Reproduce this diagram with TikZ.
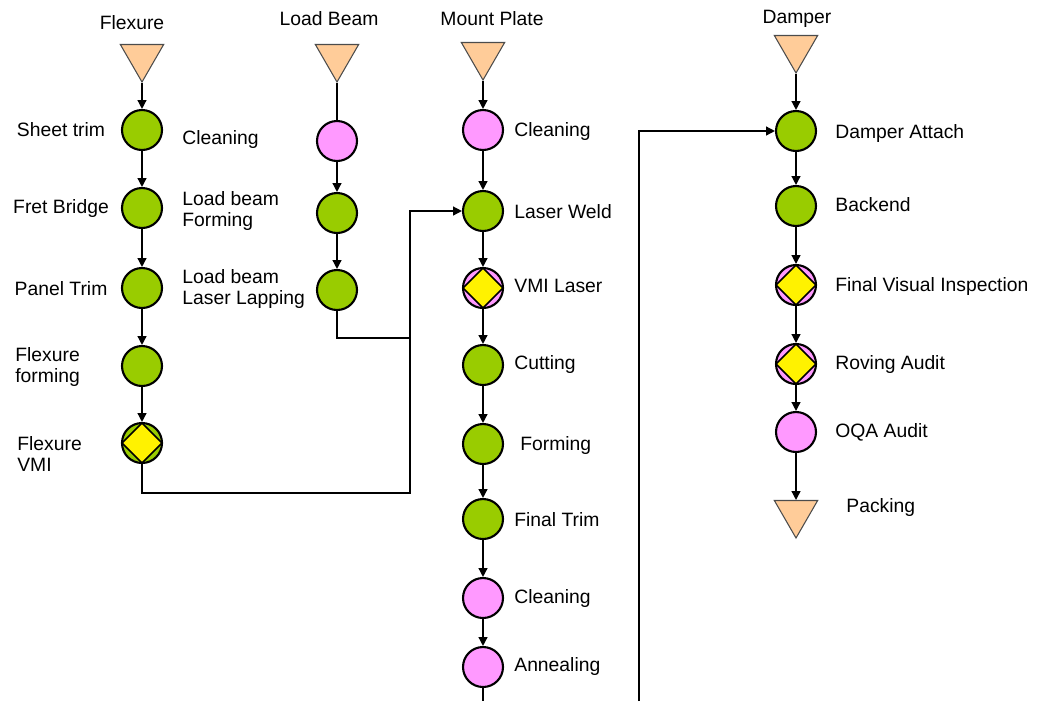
\documentclass[tikz,border=0pt]{standalone}
\usepackage{fontspec}
\setmainfont{Liberation Sans}
\usetikzlibrary{shapes.geometric,arrows.meta}

\definecolor{opgreen}{HTML}{99CC00}
\definecolor{oppink}{HTML}{FF99FF}
\definecolor{stockpeach}{HTML}{FFCC99}

\tikzset{
	op/.style={circle, draw, line width=1.2pt, minimum size=0.8cm, inner sep=0pt},
	work/.style={op, fill=opgreen},
	wash/.style={op, fill=oppink},
	check/.style={op, fill=#1, path picture={
		\draw[line width=0.9pt, fill=yellow] (path picture bounding box.north) -- (path picture bounding box.east) -- (path picture bounding box.south) -- (path picture bounding box.west) -- cycle;
	}},
	stock/.style={regular polygon, regular polygon sides=3, shape border rotate=180, draw=black!70, line width=0.6pt, fill=stockpeach, minimum size=1.0cm, inner sep=0pt},
	flow/.style={line width=0.8pt, -{Triangle[length=5pt,width=5pt]}},
	link/.style={line width=0.8pt},
	lbl/.style={font=\fontsize{11}{12}\selectfont, align=left, inner sep=0pt},
}

\begin{document}
\begin{tikzpicture}[x=0.02cm, y=-0.02cm]
	\useasboundingbox (0,0) rectangle (1040,701);

	% column titles
	\node[lbl] (h-flex)  at (132,23) {Flexure};
	\node[lbl] (h-beam)  at (329,19) {Load Beam};
	\node[lbl] (h-mount) at (492,19) {Mount Plate};
	\node[lbl] (h-damp)  at (797,19) {Damper};

	% flexure
	\node[stock] (flex0) at (142,57) {};
	\node[work]  (flex1) at (142,130) {};
	\node[work]  (flex2) at (142,208) {};
	\node[work]  (flex3) at (142,288) {};
	\node[work]  (flex4) at (142,366) {};
	\node[check=opgreen] (flex5) at (142,443) {};
	\node[lbl] (l-sheet) at (61,130) {Sheet trim};
	\node[lbl] (l-fret)  at (61,208) {Fret Bridge};
	\node[lbl] (l-panel) at (61,289) {Panel Trim};
	\node[lbl, anchor=west] (l-fform) at (15,367) {Flexure\\forming};
	\node[lbl, anchor=west] (l-fvmi)  at (17,454) {Flexure\\VMI};

	% load beam
	\node[stock] (beam0) at (337,57) {};
	\node[wash]  (beam1) at (337,141) {};
	\node[work]  (beam2) at (337,213) {};
	\node[work]  (beam3) at (337,290) {};
	\node[lbl, anchor=west] (l-bclean) at (182,139) {Cleaning};
	\node[lbl, anchor=west] (l-bform)  at (182,211) {Load beam\\Forming};
	\node[lbl, anchor=west] (l-blap)   at (182,289) {Load beam\\Laser Lapping};

	% mount plate
	\node[stock] (mount0) at (483,55) {};
	\node[wash]  (mount1) at (483,130) {};
	\node[work]  (mount2) at (483,211) {};
	\node[check=oppink] (mount3) at (483,288) {};
	\node[work]  (mount4) at (483,365) {};
	\node[work]  (mount5) at (483,444) {};
	\node[work]  (mount6) at (483,519) {};
	\node[wash]  (mount7) at (483,598) {};
	\node[wash]  (mount8) at (483,667) {};
	\node[lbl, anchor=west] (l-mclean) at (514,131) {Cleaning};
	\node[lbl, anchor=west] (l-weld)   at (514,212) {Laser Weld};
	\node[lbl, anchor=west] (l-vmi)    at (514,286) {VMI Laser};
	\node[lbl, anchor=west] (l-cut)    at (514,364) {Cutting};
	\node[lbl, anchor=west] (l-mform)  at (520,445) {Forming};
	\node[lbl, anchor=west] (l-trim)   at (514,520) {Final Trim};
	\node[lbl, anchor=west] (l-mclean2) at (514,598) {Cleaning};
	\node[lbl, anchor=west] (l-anneal) at (514,666) {Annealing};

	% damper
	\node[stock] (damp0) at (796,48) {};
	\node[work]  (damp1) at (796,131) {};
	\node[work]  (damp2) at (796,206) {};
	\node[check=oppink] (damp3) at (796,285) {};
	\node[check=oppink] (damp4) at (796,364) {};
	\node[wash]  (damp5) at (796,432) {};
	\node[stock] (damp6) at (796,513) {};
	\node[lbl, anchor=west] (l-attach) at (835,133) {Damper Attach};
	\node[lbl, anchor=west] (l-back)   at (835,205) {Backend};
	\node[lbl, anchor=west] (l-fvi)    at (835,286) {Final Visual Inspection};
	\node[lbl, anchor=west] (l-rove)   at (835,364) {Roving Audit};
	\node[lbl, anchor=west] (l-oqa)    at (835,432) {OQA Audit};
	\node[lbl, anchor=west] (l-pack)   at (846,507) {Packing};

	% flow
	\foreach \a/\b in {flex0/flex1, flex1/flex2, flex2/flex3, flex3/flex4, flex4/flex5,
		beam1/beam2, beam2/beam3,
		mount0/mount1, mount1/mount2, mount2/mount3, mount3/mount4, mount4/mount5, mount5/mount6, mount6/mount7, mount7/mount8,
		damp0/damp1, damp1/damp2, damp2/damp3, damp3/damp4, damp4/damp5, damp5/damp6}
		\draw[flow] (\a) -- (\b);
	\draw[link] (beam0) -- (beam1);

	\coordinate (bend) at (410,493);
	\coordinate (beamjoin) at (410,338);
	\coordinate (mountend) at (483,701);
	\coordinate (feed) at (639,701);
	\draw[flow] (flex5) |- (bend) |- (mount2);
	\draw[link] (beam3) |- (beamjoin);
	\draw[link] (mount8) -- (mountend);
	\draw[flow] (feed) |- (damp1);
\end{tikzpicture}
\end{document}
